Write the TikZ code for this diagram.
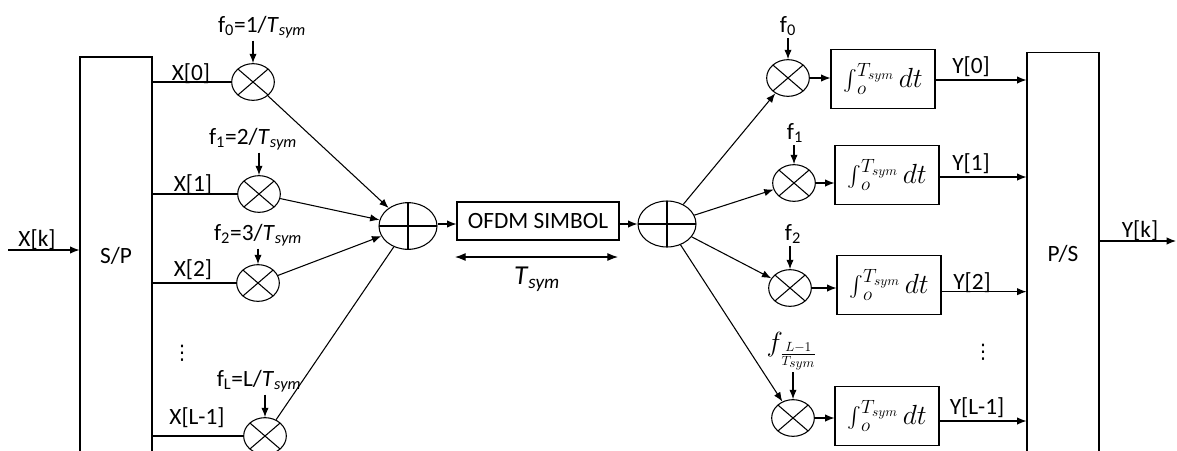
\documentclass[tikz,border=0pt]{standalone}
\usepackage{fontspec}
\setmainfont{Carlito}
\newfontfamily\dejavu{DejaVu Sans}
\usetikzlibrary{arrows.meta,shapes.geometric}
\begin{document}
\begin{tikzpicture}[x=0.75pt,y=-0.75pt, line width=0.8pt,
  every node/.style={font=\fontsize{17.5}{20}\selectfont},
  lab/.style={inner sep=1.5pt},
  big/.style={font=\fontsize{20.5}{24}\selectfont},
  mult/.style={draw, ellipse, minimum width=32pt, minimum height=27.5pt, inner sep=0pt,
    path picture={\draw[line width=0.8pt] (path picture bounding box.north east) -- (path picture bounding box.south west)
      (path picture bounding box.north west) -- (path picture bounding box.south east);}},
  adder/.style={draw, ellipse, minimum width=43.5pt, minimum height=35pt, inner sep=0pt,
    path picture={\draw[line width=0.8pt] (path picture bounding box.north) -- (path picture bounding box.south)
      (path picture bounding box.west) -- (path picture bounding box.east);}},
  intbox/.style={draw, rectangle, minimum width=78pt, minimum height=44pt, inner sep=0pt, font=\fontsize{20}{24}\selectfont},
  convbox/.style={draw, rectangle, minimum width=54pt, inner sep=0pt},
  arr/.style={-{Latex[length=7pt,width=5.5pt]}},
  darr/.style={{Latex[length=8pt,width=6pt]}-{Latex[length=8pt,width=6pt]}},
  ]
\useasboundingbox (0,0) rectangle (1177,450);
\newcommand{\Tsym}{\textit{T}\textsubscript{\textit{sym}}}
\newcommand{\intT}{$\mathop{\vcenter{\hbox{\scalebox{1.55}{$\int$}}}}\nolimits_{o}^{T_{sym}} dt$}

% converters
\node[convbox, minimum height=298.5pt] (sp) at (116,256) {S/P};
\node[convbox, minimum height=302pt] (ps) at (1063,253.5) {P/S};

% left multipliers
\node[mult] (m0) at (253,82) {};
\node[mult] (m1) at (259,194) {};
\node[mult] (m2) at (258,283) {};
\node[mult] (mL) at (265,436) {};

% left frequency labels
\node[lab] (f0) at (262,27) {f\textsubscript{0}=1/\Tsym};
\node[lab] (f1) at (253,139) {f\textsubscript{1}=2/\Tsym};
\node[lab] (f2) at (258,235) {f\textsubscript{2}=3/\Tsym};
\node[lab] (fL) at (259,381) {f\textsubscript{L}=L/\Tsym};

% X labels
\node[lab] (x0) at (191,74) {X[0]};
\node[lab] (x1) at (193,185) {X[1]};
\node[lab] (x2) at (193,270) {X[2]};
\node[lab] (xL) at (197,418) {X[L-1]};
\node[lab, font=\dejavu\fontsize{15}{18}\selectfont] (ldots) at (182,353) {⋮};

% input
\coordinate (xin) at (8,250);
\node[lab] (xk) at (37,240) {X[k]};
\draw[arr] (xin) -- (xin -| sp.west);

% S/P to multipliers
\draw (sp.east |- m0) -- (m0);
\draw (sp.east |- m1) -- (m1);
\draw (sp.east |- m2) -- (m2);
\draw (sp.east |- mL) -- (mL);

% frequency arrows
\draw[arr] (f0.south -| m0.north) -- (m0.north);
\draw[arr] (f1.south -| m1.north) -- (m1.north);
\draw[arr] (f2.south -| m2.north) -- (m2.north);
\draw[arr] (fL.south -| mL.north) -- (mL.north);

% left adder
\node[adder] (la) at (408,226) {};
\draw[arr] (m0) -- (la);
\draw[arr] (m1) -- (la);
\draw[arr] (m2) -- (la);
\draw (mL) -- (la);

% OFDM symbol
\node[draw, rectangle, minimum width=121.5pt, minimum height=28.5pt, inner sep=0pt] (ofdm) at (538,221) {OFDM SIMBOL};
\draw[arr] (la.east |- 0,224) -- (ofdm.west |- 0,224);
\node[adder, minimum height=34.5pt] (ra) at (667,224) {};
\draw[arr] (ofdm.east |- 0,224) -- (ra.west |- 0,224);

\coordinate (tl) at (455,257);
\coordinate (tr) at (618,257);
\draw[darr] (tl) -- (tr);
\node[lab, big] (tsym) at (537,279) {\Tsym};

% right multipliers
\node[mult] (r0) at (788,78) {};
\node[mult] (r1) at (794,183) {};
\node[mult] (r2) at (790,288) {};
\node[mult] (rL) at (793,418) {};

\draw[arr] (ra) -- (r0);
\draw[arr] (ra) -- (r1);
\draw[arr] (ra) -- (r2);
\draw[arr] (ra) -- (rL);

% right frequency labels
\node[lab] (g0) at (788,26) {f\textsubscript{0}};
\node[lab] (g1) at (795,133) {f\textsubscript{1}};
\node[lab] (g2) at (793,234) {f\textsubscript{2}};
\node[lab, big] (gL) at (792,351) {$f_{\frac{L-1}{T_{sym}}}$};
\draw[arr] (g0.south -| r0.north) -- (r0.north);
\draw[arr] (g1.south -| r1.north) -- (r1.north);
\draw[arr] (g2.south -| r2.north) -- (r2.north);
\draw[arr] (gL.south -| rL.north) -- (rL.north);

% integrators
\node[intbox] (b0) at (883,79) {\intT};
\node[intbox] (b1) at (887,175) {\intT};
\node[intbox] (b2) at (889,285) {\intT};
\node[intbox] (bL) at (887,416) {\intT};

\draw[arr] (r0.east) -- (r0.east -| b0.west);
\draw[arr] (r1.east) -- (r1.east -| b1.west);
\draw[arr] (r2.east) -- (r2.east -| b2.west);
\draw[arr] (rL.east) -- (rL.east -| bL.west);

\draw[arr] ([yshift=-0.75pt]b0.east) -- ([yshift=-0.75pt]b0.east -| ps.west);
\draw[arr] ([yshift=-1.5pt]b1.east) -- ([yshift=-1.5pt]b1.east -| ps.west);
\draw[arr] ([yshift=-5pt]b2.east) -- ([yshift=-5pt]b2.east -| ps.west);
\draw[arr] ([yshift=-3.75pt]bL.east) -- ([yshift=-3.75pt]bL.east -| ps.west);

\node[lab] (y0) at (971,67) {Y[0]};
\node[lab] (y1) at (971,164) {Y[1]};
\node[lab] (y2) at (972,283) {Y[2]};
\node[lab] (yL) at (977,408) {Y[L-1]};
\node[lab, font=\dejavu\fontsize{15}{18}\selectfont] (rdots) at (983,352) {⋮};

% output
\coordinate (yout) at (1176,241);
\draw[arr] (yout -| ps.east) -- (yout);
\node[lab] (yk) at (1140,231) {Y[k]};
\end{tikzpicture}
\end{document}
